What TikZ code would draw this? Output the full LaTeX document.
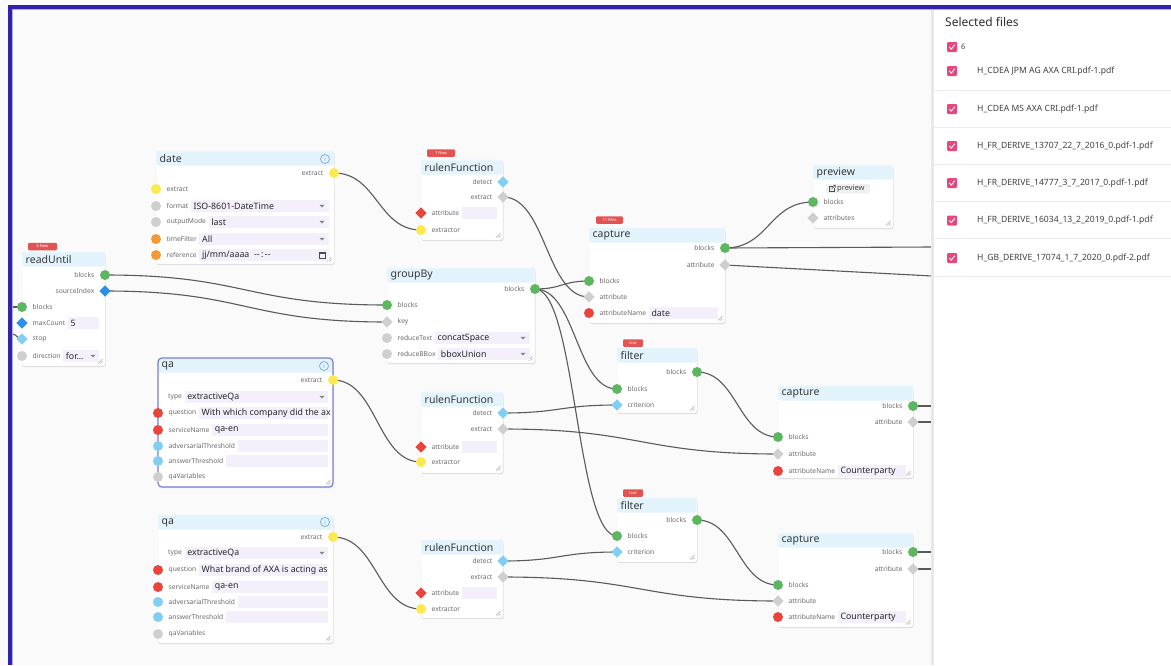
\documentclass[tikz,border=0pt]{standalone}
\usepackage{fontspec}
\setmainfont{Noto Sans}
\newfontfamily\symfont{DejaVu Sans}
\usetikzlibrary{shapes.geometric,shadows,calc}
\definecolor{canvas}{HTML}{FAFAFA}
\definecolor{frameblue}{HTML}{2E22AE}
\definecolor{framelight}{HTML}{B3ACE6}
\definecolor{hdr}{HTML}{E2F3FC}
\definecolor{fieldbg}{HTML}{F4F0FB}
\definecolor{pgreen}{HTML}{5DB761}
\definecolor{pyellow}{HTML}{FCE84F}
\definecolor{pgray}{HTML}{CFCFCF}
\definecolor{porange}{HTML}{F49A35}
\definecolor{pred}{HTML}{E8453C}
\definecolor{pblue}{HTML}{2E8FE6}
\definecolor{plblue}{HTML}{80CFF2}
\definecolor{edgec}{HTML}{5A5A5A}
\definecolor{badgec}{HTML}{E25454}
\definecolor{chkpink}{HTML}{E5487C}
\definecolor{sepc}{HTML}{ECECEC}
\definecolor{selc}{HTML}{7A80D4}
\definecolor{infoc}{HTML}{6C9EDB}
\pgfdeclarelayer{bglayer}
\pgfdeclarelayer{edgelayer}
\pgfsetlayers{bglayer,edgelayer,main}
\tikzset{
  bodybox/.style={draw=black!7, line width=0.4pt, fill=white, rounded corners=2.5pt, inner sep=0pt, outer sep=0pt,
     drop shadow={shadow xshift=0.5pt, shadow yshift=-1.2pt, opacity=0.12, fill=black}},
  titletext/.style={anchor=west, inner sep=0pt, text=black!78, font=\fontsize{10.5}{12}\selectfont},
  lbl/.style={inner sep=0pt, text=black!58, font=\fontsize{6.7}{7.5}\selectfont},
  ftext/.style={anchor=west, inner sep=0pt, text=black!85, font=\fontsize{8.8}{10}\selectfont},
  pcirc/.style={circle, inner sep=0pt, minimum size=10pt, draw=none},
  pdiam/.style={diamond, inner sep=0pt, minimum size=11.5pt, draw=none},
  wire/.style={draw=edgec, line width=1.1pt},
  badgebox/.style={fill=badgec, rounded corners=1.2pt, minimum height=7.5pt, inner sep=0pt, text=white, font=\fontsize{4}{4}\selectfont},
  chk/.style={fill=chkpink, rounded corners=1pt, minimum size=10pt, inner sep=0pt},
  fname/.style={anchor=west, inner sep=0pt, text=black!75, font=\fontsize{8.6}{10}\selectfont},
  infoicon/.style={circle, draw=infoc, line width=0.6pt, minimum size=9pt, inner sep=0pt, text=infoc, font=\fontsize{5.5}{6}\selectfont},
}
\newcommand\fbBox[6]{%
  \node[bodybox, minimum width={#4-#2}, minimum height={#5-#3}] (#1) at ({(#2+#4)/2},{(#3+#5)/2}) {};
  \fill[hdr, rounded corners=2pt] (#2+0.3,#3+0.3) rectangle (#4-0.3,#3+14.5);
  \node[titletext] (#1-title) at (#2+3.5,#3+7.5) {#6};
  \draw[black!35, line width=0.5pt] (#4-2.5,#5-7) -- (#4-7,#5-2.5) (#4-2.5,#5-4.5) -- (#4-4.5,#5-2.5);
}
\newcommand\fbIn[5]{%
  \node[#4] (#1) at (#2,#3) {};
  \node[lbl, anchor=west] (#1-l) at (#2+10.5,#3) {#5};
}
\newcommand\fbOut[5]{%
  \node[#4] (#1) at (#2,#3) {};
  \node[lbl, anchor=east] (#1-l) at (#2-10.5,#3) {#5};
}
\newcommand\fbField[5]{%
  \fill[fieldbg] ($(#2.east)+(2.5,-6.3)$) rectangle (#3,#4+6.3);
  \node[ftext] (#1) at ($(#2.east)+(5,0)$) {#5};
}
\newcommand\fbDD[2]{\fill[black!50] (#1-2.5,#2-1.2) -- (#1+2.5,#2-1.2) -- (#1,#2+1.5) -- cycle;}
\newcommand\fbInfo[3]{\node[infoicon] (#1) at (#2,#3) {i};}
\newcommand\fbBadge[5]{\node[badgebox, minimum width={#3-#2}] (#1) at ({(#2+#3)/2},#4) {#5};}
\newcommand\fbChk[3]{%
  \node[chk] (#1) at (#2,#3) {};
  \draw[white, line width=0.9pt, line cap=round, line join=round] (#2-2.6,#3+0.2) -- (#2-0.7,#3+2.1) -- (#2+2.7,#3-2.1);
}
\newcommand\fbWire[3]{\draw[wire] (#1.center) .. controls +(#3,0) and +(-#3,0) .. (#2.center);}
\begin{document}
\begin{tikzpicture}[x=1pt,y=-1pt]
\useasboundingbox (0,0) rectangle (1171,665);
\begin{pgfonlayer}{bglayer}
\fill[canvas] (0,0) rectangle (1171,665);
\end{pgfonlayer}

% ---------- date ----------
\fbBox{date}{156}{151}{334}{264}{date}
\fbInfo{date-info}{325}{159}
\fbOut{date-o-extract}{334}{173}{pcirc,fill=pyellow}{extract}
\fbIn{date-i-extract}{156}{189}{pcirc,fill=pyellow}{extract}
\fbIn{date-i-format}{156}{206}{pcirc,fill=pgray}{format}
\fbField{date-f-format}{date-i-format-l}{329}{206}{ISO-8601-DateTime}
\fbDD{322}{206}
\fbIn{date-i-outputMode}{156}{222}{pcirc,fill=pgray}{outputMode}
\fbField{date-f-outputMode}{date-i-outputMode-l}{329}{222}{last}
\fbDD{322}{222}
\fbIn{date-i-timeFilter}{156}{239}{pcirc,fill=porange}{timeFilter}
\fbField{date-f-timeFilter}{date-i-timeFilter-l}{329}{239}{All}
\fbDD{322}{239}
\fbIn{date-i-reference}{156}{255}{pcirc,fill=porange}{reference}
\fbField{date-f-reference}{date-i-reference-l}{329}{255}{jj/mm/aaaa\ \ {-}{-}\,:\,{-}{-}}
\draw[black!70, line width=0.6pt] (319,252) rectangle (325,258);
\fill[black!70] (319,252) rectangle (325,254);

% ---------- readUntil ----------
\fbBadge{ru-badge}{28}{57}{246.5}{6 New}
\fbBox{ru}{22}{252}{105}{366}{readUntil}
\fbOut{ru-o-blocks}{105}{275}{pcirc,fill=pgreen}{blocks}
\fbOut{ru-o-sourceIndex}{105}{291}{pdiam,fill=pblue}{sourceIndex}
\fbIn{ru-i-blocks}{22}{307}{pcirc,fill=pgreen}{blocks}
\fbIn{ru-i-maxCount}{22}{323}{pdiam,fill=pblue}{maxCount}
\fbField{ru-f-maxCount}{ru-i-maxCount-l}{99}{323}{5}
\fbIn{ru-i-stop}{22}{339}{pdiam,fill=plblue}{stop}
\fbIn{ru-i-direction}{22}{356}{pcirc,fill=pgray}{direction}
\fbField{ru-f-direction}{ru-i-direction-l}{99}{356}{for...}
\fbDD{93}{356}

% ---------- rulenFunction 1 ----------
\fbBadge{r1-badge}{427}{455}{153}{1 New}
\fbBox{r1}{421}{160}{503}{240}{rulenFunction}
\fbOut{r1-o-detect}{503}{182}{pdiam,fill=plblue}{detect}
\fbOut{r1-o-extract}{503}{197}{pdiam,fill=pgray}{extract}
\fbIn{r1-i-attribute}{421}{213}{pdiam,fill=pred}{attribute}
\fbField{r1-f-attribute}{r1-i-attribute-l}{497}{213}{}
\fbIn{r1-i-extractor}{421}{230}{pcirc,fill=pyellow}{extractor}

% ---------- groupBy ----------
\fbBox{gb}{387}{268}{535}{363}{groupBy}
\fbOut{gb-o-blocks}{535}{289}{pcirc,fill=pgreen}{blocks}
\fbIn{gb-i-blocks}{387}{305}{pcirc,fill=pgreen}{blocks}
\fbIn{gb-i-key}{387}{322}{pdiam,fill=pgray}{key}
\fbIn{gb-i-reduceText}{387}{338}{pcirc,fill=pgray}{reduceText}
\fbField{gb-f-reduceText}{gb-i-reduceText-l}{530}{338}{concatSpace}
\fbDD{523}{338}
\fbIn{gb-i-reduceBBox}{387}{354}{pcirc,fill=pgray}{reduceBBox}
\fbField{gb-f-reduceBBox}{gb-i-reduceBBox-l}{530}{354}{bboxUnion}
\fbDD{523}{354}

% ---------- capture 1 ----------
\fbBadge{c1-badge}{596}{623}{220}{11 Files}
\fbBox{c1}{589}{228}{725}{323}{capture}
\fbOut{c1-o-blocks}{725}{248}{pcirc,fill=pgreen}{blocks}
\fbOut{c1-o-attribute}{725}{265}{pdiam,fill=pgray}{attribute}
\fbIn{c1-i-blocks}{589}{281}{pcirc,fill=pgreen}{blocks}
\fbIn{c1-i-attribute}{589}{297}{pdiam,fill=pgray}{attribute}
\fbIn{c1-i-attributeName}{589}{313}{pcirc,fill=pred}{attributeName}
\fbField{c1-f-attributeName}{c1-i-attributeName-l}{718}{313}{date}

% ---------- preview ----------
\fbBox{pv}{813}{165}{893}{228}{preview}
\node[fill=black!6, rounded corners=1pt, minimum width=44pt, minimum height=9.5pt, inner sep=0pt] (pv-btn) at (848,188.5) {};
\node[anchor=west, inner sep=0pt, font=\fontsize{7.5}{8}\selectfont, text=black!75] (pv-btn-t) at (837,188.5) {preview};
\draw[black!70, line width=0.5pt] (832.5,186) -- (829,186) -- (829,191.5) -- (834.5,191.5) -- (834.5,188);
\draw[black!70, line width=0.5pt] (831.5,189) -- (835.3,185.2) (833,185.2) -- (835.3,185.2) -- (835.3,187.5);
\fbIn{pv-i-blocks}{813}{202}{pcirc,fill=pgreen}{blocks}
\fbIn{pv-i-attributes}{813}{218}{pdiam,fill=pgray}{attributes}

% ---------- qa 1 ----------
\fbBox{qa1}{158}{358}{333}{487}{qa}
\draw[selc, line width=1.2pt, rounded corners=4pt] (158,358) rectangle (333,487);
\fbInfo{qa1-info}{324}{366}
\fbOut{qa1-o-extract}{333}{380}{pcirc,fill=pyellow}{extract}
\node[lbl, anchor=west] (qa1-type-l) at (168,397) {type};
\fbField{qa1-f-type}{qa1-type-l}{328}{397}{extractiveQa}
\fbDD{322}{397}
\fbIn{qa1-i-question}{158}{413}{pcirc,fill=pred}{question}
\fbField{qa1-f-question}{qa1-i-question-l}{328}{413}{With which company did the ax}
\fbIn{qa1-i-serviceName}{158}{430}{pcirc,fill=pred}{serviceName}
\fbField{qa1-f-serviceName}{qa1-i-serviceName-l}{328}{430}{qa-en}
\fbIn{qa1-i-adv}{158}{446}{pcirc,fill=plblue}{adversarialThreshold}
\fbField{qa1-f-adv}{qa1-i-adv-l}{328}{446}{}
\fbIn{qa1-i-ans}{158}{461}{pcirc,fill=plblue}{answerThreshold}
\fbField{qa1-f-ans}{qa1-i-ans-l}{328}{461}{}
\fbIn{qa1-i-qaVariables}{158}{477}{pcirc,fill=pgray}{qaVariables}

% ---------- rulenFunction 2 ----------
\fbBox{r2}{421}{392}{503}{473}{rulenFunction}
\fbOut{r2-o-detect}{503}{413}{pdiam,fill=plblue}{detect}
\fbOut{r2-o-extract}{503}{429}{pdiam,fill=pgray}{extract}
\fbIn{r2-i-attribute}{421}{447}{pdiam,fill=pred}{attribute}
\fbField{r2-f-attribute}{r2-i-attribute-l}{497}{447}{}
\fbIn{r2-i-extractor}{421}{462}{pcirc,fill=pyellow}{extractor}

% ---------- filter 1 ----------
\fbBadge{f1-badge}{623}{643}{343}{Live}
\fbBox{f1}{617}{348}{697}{413}{filter}
\fbOut{f1-o-blocks}{697}{372}{pcirc,fill=pgreen}{blocks}
\fbIn{f1-i-blocks}{617}{389}{pcirc,fill=pgreen}{blocks}
\fbIn{f1-i-criterion}{617}{405}{pdiam,fill=plblue}{criterion}

% ---------- capture 2 ----------
\fbBox{c2}{778}{386}{913}{478}{capture}
\fbOut{c2-o-blocks}{913}{406}{pcirc,fill=pgreen}{blocks}
\fbOut{c2-o-attribute}{913}{422}{pdiam,fill=pgray}{attribute}
\fbIn{c2-i-blocks}{778}{437}{pcirc,fill=pgreen}{blocks}
\fbIn{c2-i-attribute}{778}{454}{pdiam,fill=pgray}{attribute}
\fbIn{c2-i-attributeName}{778}{471}{pcirc,fill=pred}{attributeName}
\fbField{c2-f-attributeName}{c2-i-attributeName-l}{906}{471}{Counterparty}

% ---------- qa 2 ----------
\fbBox{qa2}{158}{515}{333}{643}{qa}
\fbInfo{qa2-info}{325}{522}
\fbOut{qa2-o-extract}{333}{537}{pcirc,fill=pyellow}{extract}
\node[lbl, anchor=west] (qa2-type-l) at (168,553) {type};
\fbField{qa2-f-type}{qa2-type-l}{328}{553}{extractiveQa}
\fbDD{322}{553}
\fbIn{qa2-i-question}{158}{570}{pcirc,fill=pred}{question}
\fbField{qa2-f-question}{qa2-i-question-l}{328}{570}{What brand of AXA is acting as}
\fbIn{qa2-i-serviceName}{158}{587}{pcirc,fill=pred}{serviceName}
\fbField{qa2-f-serviceName}{qa2-i-serviceName-l}{328}{587}{qa-en}
\fbIn{qa2-i-adv}{158}{602}{pcirc,fill=plblue}{adversarialThreshold}
\fbField{qa2-f-adv}{qa2-i-adv-l}{328}{602}{}
\fbIn{qa2-i-ans}{158}{617}{pcirc,fill=plblue}{answerThreshold}
\fbField{qa2-f-ans}{qa2-i-ans-l}{328}{617}{}
\fbIn{qa2-i-qaVariables}{158}{634}{pcirc,fill=pgray}{qaVariables}

% ---------- rulenFunction 3 ----------
\fbBox{r3}{421}{540}{503}{618}{rulenFunction}
\fbOut{r3-o-detect}{503}{561}{pdiam,fill=plblue}{detect}
\fbOut{r3-o-extract}{503}{577}{pdiam,fill=pgray}{extract}
\fbIn{r3-i-attribute}{421}{593}{pdiam,fill=pred}{attribute}
\fbField{r3-f-attribute}{r3-i-attribute-l}{497}{593}{}
\fbIn{r3-i-extractor}{421}{609}{pcirc,fill=pyellow}{extractor}

% ---------- filter 2 ----------
\fbBadge{f2-badge}{623}{643}{493}{Live}
\fbBox{f2}{617}{498}{697}{562}{filter}
\fbOut{f2-o-blocks}{697}{520}{pcirc,fill=pgreen}{blocks}
\fbIn{f2-i-blocks}{617}{536}{pcirc,fill=pgreen}{blocks}
\fbIn{f2-i-criterion}{617}{552}{pdiam,fill=plblue}{criterion}

% ---------- capture 3 ----------
\fbBox{c3}{778}{533}{913}{627}{capture}
\fbOut{c3-o-blocks}{913}{552}{pcirc,fill=pgreen}{blocks}
\fbOut{c3-o-attribute}{913}{569}{pdiam,fill=pgray}{attribute}
\fbIn{c3-i-blocks}{778}{585}{pcirc,fill=pgreen}{blocks}
\fbIn{c3-i-attribute}{778}{601}{pdiam,fill=pgray}{attribute}
\fbIn{c3-i-attributeName}{778}{617}{pcirc,fill=pred}{attributeName}
\fbField{c3-f-attributeName}{c3-i-attributeName-l}{906}{617}{Counterparty}

% ---------- free ends ----------
\coordinate (ru-src1) at (12,307);
\coordinate (ru-src2) at (12,334);
\coordinate (c1-dst1) at (932,247);
\coordinate (c1-dst2) at (932,276);
\coordinate (c2-dst1) at (932,406);
\coordinate (c2-dst2) at (932,422);
\coordinate (c3-dst1) at (932,552);
\coordinate (c3-dst2) at (932,569);

% ---------- connectors ----------
\begin{pgfonlayer}{edgelayer}
\draw[wire] (ru-src1) -- (ru-i-blocks.center);
\draw[wire] (ru-src2) .. controls +(5,0) and +(-5,0) .. (ru-i-stop.center);
\fbWire{date-o-extract}{r1-i-extractor}{43}
\fbWire{ru-o-blocks}{gb-i-blocks}{141}
\fbWire{ru-o-sourceIndex}{gb-i-key}{141}
\fbWire{r1-o-extract}{c1-i-attribute}{43}
\fbWire{gb-o-blocks}{c1-i-blocks}{27}
\fbWire{gb-o-blocks}{f1-i-blocks}{41}
\fbWire{gb-o-blocks}{f2-i-blocks}{41}
\fbWire{c1-o-blocks}{pv-i-blocks}{44}
\draw[wire] (c1-o-blocks.center) -- (c1-dst1);
\draw[wire] (c1-o-attribute.center) -- (c1-dst2);
\fbWire{qa1-o-extract}{r2-i-extractor}{44}
\fbWire{r2-o-detect}{f1-i-criterion}{57}
\fbWire{r2-o-extract}{c2-i-attribute}{137}
\fbWire{f1-o-blocks}{c2-i-blocks}{40}
\draw[wire] (c2-o-blocks.center) -- (c2-dst1);
\draw[wire] (c2-o-attribute.center) -- (c2-dst2);
\fbWire{qa2-o-extract}{r3-i-extractor}{44}
\fbWire{r3-o-detect}{f2-i-criterion}{57}
\fbWire{r3-o-extract}{c3-i-attribute}{137}
\fbWire{f2-o-blocks}{c3-i-blocks}{40}
\draw[wire] (c3-o-blocks.center) -- (c3-dst1);
\draw[wire] (c3-o-attribute.center) -- (c3-dst2);
\end{pgfonlayer}

% ---------- side panel ----------
\fill[white] (933,9) rectangle (1171,665);
\fill[black!9] (930.5,9) rectangle (933.5,665);
\foreach \yy in {90,127.5,164,201,238,276} \draw[sepc, line width=0.8pt] (933.5,\yy) -- (1171,\yy);
\node[anchor=west, inner sep=0pt, font=\bfseries\fontsize{12}{13}\selectfont, text=black!82] (seltitle) at (945,22) {Selected files};
\fbChk{chk0}{952}{47}
\node[anchor=west, inner sep=0pt, font=\fontsize{7.5}{8}\selectfont, text=black!75] (chk0-t) at (961,46.5) {6};
\fbChk{chk1}{952}{71}
\node[fname] (file1) at (977,71) {H\_CDEA JPM AG AXA CRI.pdf-1.pdf};
\fbChk{chk2}{952}{109}
\node[fname] (file2) at (977,109) {H\_CDEA MS AXA CRI.pdf-1.pdf};
\fbChk{chk3}{952}{146}
\node[fname] (file3) at (977,146) {H\_FR\_DERIVE\_13707\_22\_7\_2016\_0.pdf-1.pdf};
\fbChk{chk4}{952}{183}
\node[fname] (file4) at (977,183) {H\_FR\_DERIVE\_14777\_3\_7\_2017\_0.pdf-1.pdf};
\fbChk{chk5}{952}{220.5}
\node[fname] (file5) at (977,220.5) {H\_FR\_DERIVE\_16034\_13\_2\_2019\_0.pdf-1.pdf};
\fbChk{chk6}{952}{258}
\node[fname] (file6) at (977,258) {H\_GB\_DERIVE\_17074\_1\_7\_2020\_0.pdf-2.pdf};

% ---------- frame ----------
\fill[frameblue] (8,5) rectangle (1171,9);
\fill[frameblue] (8,5) rectangle (12,665);
\draw[framelight, line width=0.8pt] (12,9.4) -- (1171,9.4);
\draw[framelight, line width=0.8pt] (12.4,9.4) -- (12.4,665);
\end{tikzpicture}
\end{document}
